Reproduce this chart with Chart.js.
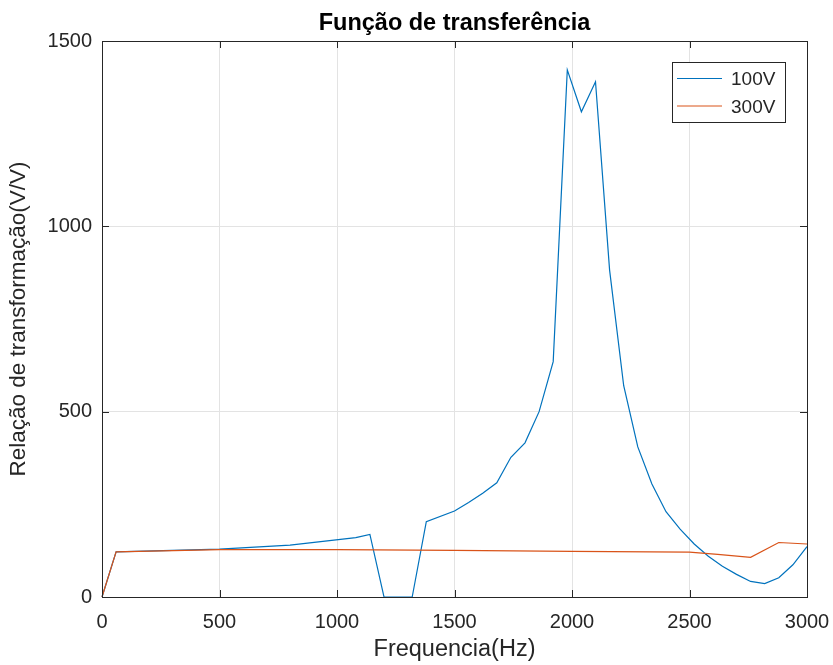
<!DOCTYPE html>
<html>
<head>
<meta charset="utf-8">
<script src="https://cdn.jsdelivr.net/npm/chart.js@4/dist/chart.umd.min.js"></script>
<style>
  html, body { margin: 0; padding: 0; background: #fff; }
  #wrap { width: 833px; height: 665px; }
</style>
</head>
<body>
<div id="wrap"><canvas id="chart" width="833" height="665"></canvas></div>
<script>
// ---- Data ----
const TITLE = "Função de transferência";
const X_LABEL = "Frequencia(Hz)";
const Y_LABEL = "Relação de transformação(V/V)";
const SERIES_NAMES = ["100V", "300V"];

const FREQ_100V = [0, 60, 500, 800, 1080, 1140, 1200, 1320, 1380, 1500, 1560, 1620, 1680, 1740, 1800, 1860,
  1920, 1980, 2040, 2100, 2160, 2220, 2280, 2340, 2400, 2460, 2520, 2580, 2640, 2700, 2760, 2820, 2880, 2940, 3000];
const VAL_100V  = [0, 122, 129, 140, 160, 169, 0, 0, 203, 232, 255, 280, 308, 377, 416, 500,
  635, 1422, 1309, 1390, 882, 570, 405, 305, 230, 183, 143, 110, 83, 61, 42, 36, 52, 87, 136];

const FREQ_300V = [0, 60, 500, 1000, 1500, 2000, 2500, 2620, 2760, 2880, 3000];
const VAL_300V  = [0, 122, 128, 128, 126, 123, 121, 115, 107, 147, 143];

const X_TICKS = [0, 500, 1000, 1500, 2000, 2500, 3000];
const Y_TICKS = [0, 500, 1000, 1500];

// ---- Style ----
const COLORS = ["#0072BD", "#D95319"];
const AXIS = "#262626";
const GRID = "#e3e3e3";
const FONT = "'Liberation Sans', Arial, sans-serif";

const toPts = (xs, ys) => xs.map((x, i) => ({ x, y: ys[i] }));

// box, inward ticks, title and legend in MATLAB style
const matlabAxes = {
  id: "matlabAxes",
  afterDraw(chart) {
    const { ctx, chartArea: a, scales } = chart;
    ctx.save();
    ctx.strokeStyle = AXIS;
    ctx.lineWidth = 1;
    ctx.strokeRect(Math.round(a.left) + 0.5, Math.round(a.top) + 0.5,
      Math.round(a.right - a.left), Math.round(a.bottom - a.top));

    const tl = 7;
    ctx.beginPath();
    X_TICKS.forEach(v => {
      const px = Math.round(scales.x.getPixelForValue(v)) + 0.5;
      ctx.moveTo(px, a.bottom); ctx.lineTo(px, a.bottom - tl);
      ctx.moveTo(px, a.top); ctx.lineTo(px, a.top + tl);
    });
    Y_TICKS.forEach(v => {
      const py = Math.round(scales.y.getPixelForValue(v)) + 0.5;
      ctx.moveTo(a.left, py); ctx.lineTo(a.left + tl, py);
      ctx.moveTo(a.right, py); ctx.lineTo(a.right - tl, py);
    });
    ctx.stroke();

    // title
    ctx.fillStyle = "#000";
    ctx.font = "bold 23.5px " + FONT;
    ctx.textAlign = "center";
    ctx.textBaseline = "middle";
    ctx.fillText(TITLE, (a.left + a.right) / 2, 24);

    // legend
    const bx = 672, by = 62, bw = 113, bh = 60;
    ctx.fillStyle = "#fff";
    ctx.fillRect(bx, by, bw, bh);
    ctx.strokeRect(bx + 0.5, by + 0.5, bw, bh);
    ctx.font = "19px " + FONT;
    ctx.textAlign = "left";
    SERIES_NAMES.forEach((name, i) => {
      const y = by + 16 + i * 27.5;
      ctx.strokeStyle = COLORS[i];
      ctx.beginPath();
      ctx.moveTo(bx + 5, y + 0.5); ctx.lineTo(bx + 50, y + 0.5);
      ctx.stroke();
      ctx.fillStyle = AXIS;
      ctx.fillText(name, bx + 59, y + 2);
    });
    ctx.restore();
  }
};

new Chart(document.getElementById("chart"), {
  type: "line",
  data: {
    datasets: [
      { label: SERIES_NAMES[0], data: toPts(FREQ_100V, VAL_100V), borderColor: COLORS[0],
        borderWidth: 1.2, pointRadius: 0, tension: 0, clip: false, order: 1 },
      { label: SERIES_NAMES[1], data: toPts(FREQ_300V, VAL_300V), borderColor: COLORS[1],
        borderWidth: 1.2, pointRadius: 0, tension: 0, clip: false, order: 0 }
    ]
  },
  options: {
    responsive: false,
    animation: false,
    layout: { padding: { top: 41, right: 26, left: 0, bottom: 0 } },
    plugins: { legend: { display: false }, tooltip: { enabled: false }, title: { display: false } },
    scales: {
      x: {
        type: "linear", min: 0, max: 3000,
        afterBuildTicks: s => { s.ticks = X_TICKS.map(v => ({ value: v })); },
        afterFit: s => { s.height = 68; s.paddingLeft = 0; s.paddingRight = 0; },
        grid: { color: GRID, drawTicks: false },
        border: { display: false },
        ticks: { color: AXIS, font: { family: FONT, size: 20 }, padding: 13, maxRotation: 0,
          callback: v => String(v) },
        title: { display: true, text: X_LABEL, color: AXIS, font: { family: FONT, size: 23.5 },
          padding: { top: 0, bottom: 1 } }
      },
      y: {
        type: "linear", min: 0, max: 1500,
        afterBuildTicks: s => { s.ticks = Y_TICKS.map(v => ({ value: v })); },
        afterFit: s => { s.width = 102; s.paddingTop = 0; s.paddingBottom = 0; },
        grid: { color: GRID, drawTicks: false },
        border: { display: false },
        ticks: { color: AXIS, font: { family: FONT, size: 20 }, padding: 10,
          callback: v => String(v) },
        title: { display: true, text: Y_LABEL, color: AXIS, font: { family: FONT, size: 22.5 },
          padding: { top: 5, bottom: 0 } }
      }
    }
  },
  plugins: [matlabAxes]
});
</script>
</body>
</html>
